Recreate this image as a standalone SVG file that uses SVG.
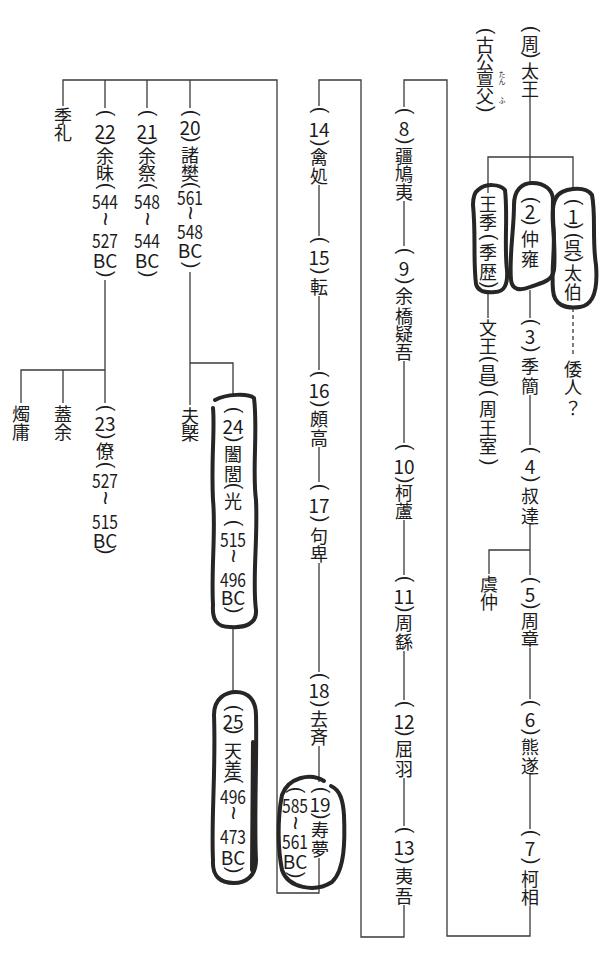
<svg xmlns="http://www.w3.org/2000/svg" width="600" height="964" viewBox="0 0 600 964">
<style>
.c{font-family:"Noto Sans CJK JP","Noto Sans CJK SC",sans-serif;font-size:18px;text-anchor:middle;dominant-baseline:central;fill:#1c1c1c}
.n{font-family:"Noto Sans CJK JP","Noto Sans",sans-serif;font-size:19px;text-anchor:middle;dominant-baseline:central;fill:#1c1c1c}
.p{font-family:"Liberation Sans",sans-serif;font-size:20px;text-anchor:middle;dominant-baseline:central;fill:#1c1c1c}
.w{font-family:"Liberation Sans",sans-serif;font-size:24px;text-anchor:middle;dominant-baseline:central;fill:#1c1c1c}
.r{font-family:"Noto Sans CJK JP",sans-serif;font-size:7px;text-anchor:middle;dominant-baseline:central;fill:#1c1c1c}
.ln{fill:none;stroke:#3a3a3a;stroke-width:1.3}
.dash{fill:none;stroke:#3a3a3a;stroke-width:1.3;stroke-dasharray:4 3}
.blob{fill:none;stroke:#262626;stroke-width:4;stroke-linejoin:round;stroke-linecap:round}
</style>
<rect width="600" height="964" fill="#ffffff"/>
<g id="connectors">
<path class="ln" d="M530,97 V184"/>
<path class="ln" d="M488,193 V157 H573 V190"/>
<path class="ln" d="M488,293 V318"/>
<path class="ln" d="M530,290 V318"/>
<path class="dash" d="M573,308 V355"/>
<path class="ln" d="M530,395 V445"/>
<path class="ln" d="M530,524 V575 M530,550 H489 V574"/>
<path class="ln" d="M530,648 V699"/>
<path class="ln" d="M530,774 V829"/>
<path class="ln" d="M530,906 V936 H447 V80 H404 V107"/>
<path class="ln" d="M404,201 V246 M404,361 V443 M404,520 V575 M404,651 V700 M404,778 V826"/>
<path class="ln" d="M404,905 V937 H361 V80 H319 V106"/>
<path class="ln" d="M319,185 V236 M319,296 V370 M319,447 V482 M319,563 V672 M319,746 V782"/>
<path class="ln" d="M319,858 V893 H277 V80 H63 V106 M105,80 V108 M147,80 V108 M190,80 V108"/>
<path class="ln" d="M190,272 V405 M190,363 H233 V396"/>
<path class="ln" d="M233,627 V693"/>
<path class="ln" d="M105,280 V403 M21,403 V370 H105 M63,370 V403"/>
</g>
<g id="n-taiou">
<text class="p" transform="translate(532 29) rotate(90)">(</text>
<text class="c" x="530" y="43">周</text>
<text class="p" transform="translate(532 55) rotate(90)">)</text>
<text class="c" x="530" y="70">太</text>
<text class="c" x="530" y="88">王</text>
</g>
<g id="n-kokou">
<text class="p" transform="translate(487 31) rotate(90)">(</text>
<text class="c" x="485" y="44">古</text>
<text class="c" x="485" y="61">公</text>
<text class="c" x="485" y="78">亶</text>
<text class="c" x="485" y="95">父</text>
<text class="p" transform="translate(487 109) rotate(90)">)</text>
<text class="r" x="502" y="74">た</text>
<text class="r" x="502" y="81">ん</text>
<text class="r" x="502" y="100">ふ</text>
</g>
<g id="n-ouki">
<path class="blob" d="M478,190 C486,183 500,184 505,190 C508,215 504,245 507,270 C508,285 504,292 495,292 C486,293 478,292 476,284 C473,260 476,235 473,205 C473,196 475,192 478,190 Z"/>
<text class="c" x="488" y="203">王</text>
<text class="c" x="488" y="221">季</text>
<text class="p" transform="translate(490 237) rotate(90)">(</text>
<text class="c" x="488" y="251">季</text>
<text class="c" x="488" y="271">歴</text>
<text class="p" transform="translate(490 285) rotate(90)">)</text>
</g>
<g id="n-chuyou">
<path class="blob" d="M514,205 C514,190 522,183 532,183 C545,183 553,190 553,200 C552,225 556,250 554,270 C552,282 540,283 530,287 C520,291 512,290 511,280 C509,255 514,230 514,205 Z"/>
<text class="p" transform="translate(532 200) rotate(90)">(</text>
<text class="n" x="530" y="210">2</text>
<text class="p" transform="translate(532 222) rotate(90)">)</text>
<text class="c" x="530" y="238">仲</text>
<text class="c" x="530" y="258">雍</text>
</g>
<g id="n-taihaku">
<path class="blob" d="M556,198 C560,188 585,185 592,195 C596,215 592,240 596,265 C598,290 594,305 580,307 C565,309 554,305 553,290 C551,265 556,245 553,225 C552,212 553,203 556,198 Z"/>
<text class="p" transform="translate(575 202) rotate(90)">(</text>
<text class="n" x="573" y="215">1</text>
<text class="p" transform="translate(575 226) rotate(90)">)</text>
<text class="p" transform="translate(575 236) rotate(90)">(</text>
<text class="c" x="573" y="247">呉</text>
<text class="p" transform="translate(575 259) rotate(90)">)</text>
<text class="c" x="573" y="272">太</text>
<text class="c" x="573" y="291">伯</text>
</g>
<g id="n-wajin">
<text class="c" x="573" y="368">倭</text>
<text class="c" x="573" y="386">人</text>
<text class="c" x="573" y="407">？</text>
</g>
<g id="n-bunnou">
<text class="c" x="488" y="327">文</text>
<text class="c" x="488" y="345">王</text>
<text class="p" transform="translate(490 359) rotate(90)">(</text>
<text class="c" x="488" y="372">昌</text>
<text class="p" transform="translate(490 384) rotate(90)">)</text>
<text class="p" transform="translate(490 393) rotate(90)">(</text>
<text class="c" x="488" y="408">周</text>
<text class="c" x="488" y="427">王</text>
<text class="c" x="488" y="445">室</text>
<text class="p" transform="translate(490 462) rotate(90)">)</text>
</g>
<g id="n3">
<text class="p" transform="translate(532 322) rotate(90)">(</text>
<text class="n" x="530" y="335">3</text>
<text class="p" transform="translate(532 349) rotate(90)">)</text>
<text class="c" x="530" y="365">季</text>
<text class="c" x="530" y="385">簡</text>
</g>
<g id="n4">
<text class="p" transform="translate(532 450) rotate(90)">(</text>
<text class="n" x="530" y="465">4</text>
<text class="p" transform="translate(532 479) rotate(90)">)</text>
<text class="c" x="530" y="495">叔</text>
<text class="c" x="530" y="515">達</text>
</g>
<g id="n-guchu">
<text class="c" x="489" y="583">虞</text>
<text class="c" x="489" y="601">仲</text>
</g>
<g id="n5">
<text class="p" transform="translate(532 580) rotate(90)">(</text>
<text class="n" x="530" y="593">5</text>
<text class="p" transform="translate(532 606) rotate(90)">)</text>
<text class="c" x="530" y="620">周</text>
<text class="c" x="530" y="638">章</text>
</g>
<g id="n6">
<text class="p" transform="translate(532 703) rotate(90)">(</text>
<text class="n" x="530" y="718">6</text>
<text class="p" transform="translate(532 732) rotate(90)">)</text>
<text class="c" x="530" y="746">熊</text>
<text class="c" x="530" y="765">遂</text>
</g>
<g id="n7">
<text class="p" transform="translate(532 833) rotate(90)">(</text>
<text class="n" x="530" y="847">7</text>
<text class="p" transform="translate(532 861) rotate(90)">)</text>
<text class="c" x="530" y="878">柯</text>
<text class="c" x="530" y="896">相</text>
</g>
<g id="n8">
<text class="p" transform="translate(406 111) rotate(90)">(</text>
<text class="n" x="404" y="127">8</text>
<text class="p" transform="translate(406 141) rotate(90)">)</text>
<text class="c" x="404" y="155">疆</text>
<text class="c" x="404" y="173">鳩</text>
<text class="c" x="404" y="191">夷</text>
</g>
<g id="n9">
<text class="p" transform="translate(406 251) rotate(90)">(</text>
<text class="n" x="404" y="267">9</text>
<text class="p" transform="translate(406 281) rotate(90)">)</text>
<text class="c" x="404" y="295">余</text>
<text class="c" x="404" y="315">橋</text>
<text class="c" x="404" y="333">疑</text>
<text class="c" x="404" y="351">吾</text>
</g>
<g id="n10">
<text class="p" transform="translate(406 447) rotate(90)">(</text>
<text class="n" x="404" y="465">10</text>
<text class="p" transform="translate(406 480) rotate(90)">)</text>
<text class="c" x="404" y="492">柯</text>
<text class="c" x="404" y="510">蘆</text>
</g>
<g id="n11">
<text class="p" transform="translate(406 579) rotate(90)">(</text>
<text class="n" x="404" y="595">11</text>
<text class="p" transform="translate(406 609) rotate(90)">)</text>
<text class="c" x="404" y="622">周</text>
<text class="c" x="404" y="641">繇</text>
</g>
<g id="n12">
<text class="p" transform="translate(406 704) rotate(90)">(</text>
<text class="n" x="404" y="720">12</text>
<text class="p" transform="translate(406 733) rotate(90)">)</text>
<text class="c" x="404" y="748">屈</text>
<text class="c" x="404" y="768">羽</text>
</g>
<g id="n13">
<text class="p" transform="translate(406 830) rotate(90)">(</text>
<text class="n" x="404" y="846">13</text>
<text class="p" transform="translate(406 861) rotate(90)">)</text>
<text class="c" x="404" y="875">夷</text>
<text class="c" x="404" y="895">吾</text>
</g>
<g id="n14">
<text class="p" transform="translate(321 110) rotate(90)">(</text>
<text class="n" x="319" y="128">14</text>
<text class="p" transform="translate(321 143) rotate(90)">)</text>
<text class="c" x="319" y="156">禽</text>
<text class="c" x="319" y="175">処</text>
</g>
<g id="n15">
<text class="p" transform="translate(321 240) rotate(90)">(</text>
<text class="n" x="319" y="256">15</text>
<text class="p" transform="translate(321 271) rotate(90)">)</text>
<text class="c" x="319" y="286">転</text>
</g>
<g id="n16">
<text class="p" transform="translate(321 374) rotate(90)">(</text>
<text class="n" x="319" y="389">16</text>
<text class="p" transform="translate(321 404) rotate(90)">)</text>
<text class="c" x="319" y="418">頗</text>
<text class="c" x="319" y="437">高</text>
</g>
<g id="n17">
<text class="p" transform="translate(321 487) rotate(90)">(</text>
<text class="n" x="319" y="504">17</text>
<text class="p" transform="translate(321 519) rotate(90)">)</text>
<text class="c" x="319" y="535">句</text>
<text class="c" x="319" y="553">卑</text>
</g>
<g id="n18">
<text class="p" transform="translate(321 676) rotate(90)">(</text>
<text class="n" x="319" y="689">18</text>
<text class="p" transform="translate(321 704) rotate(90)">)</text>
<text class="c" x="319" y="718">去</text>
<text class="c" x="319" y="736">斉</text>
</g>
<g id="n19">
<path class="blob" d="M324,781 C310,772 288,778 282,795 C277,820 278,850 282,870 C288,888 315,893 332,882 C345,870 345,840 344,815 C343,800 340,790 331,786"/>
<text class="p" transform="translate(322 790) rotate(90)">(</text>
<text class="n" x="320" y="803">19</text>
<text class="p" transform="translate(322 816) rotate(90)">)</text>
<text class="c" x="320" y="829">寿</text>
<text class="c" x="320" y="848">夢</text>
<text class="p" transform="translate(297 790) rotate(90)">(</text>
<text class="n" x="295" y="804" textLength="26" lengthAdjust="spacingAndGlyphs">585</text>
<text class="w" transform="translate(295 823) rotate(90)">~</text>
<text class="n" x="295" y="840" textLength="26" lengthAdjust="spacingAndGlyphs">561</text>
<text class="n" x="295" y="860">BC</text>
<text class="p" transform="translate(297 875) rotate(90)">)</text>
</g>
<g id="n20">
<text class="p" transform="translate(192 113) rotate(90)">(</text>
<text class="n" x="190" y="126">20</text>
<text class="p" transform="translate(192 139) rotate(90)">)</text>
<text class="c" x="190" y="154">諸</text>
<text class="c" x="190" y="172">樊</text>
<text class="p" transform="translate(192 185) rotate(90)">(</text>
<text class="n" x="190" y="196" textLength="26" lengthAdjust="spacingAndGlyphs">561</text>
<text class="w" transform="translate(190 213) rotate(90)">~</text>
<text class="n" x="190" y="230" textLength="26" lengthAdjust="spacingAndGlyphs">548</text>
<text class="n" x="190" y="249">BC</text>
<text class="p" transform="translate(192 265) rotate(90)">)</text>
</g>
<g id="n21">
<text class="p" transform="translate(149 113) rotate(90)">(</text>
<text class="n" x="147" y="130">21</text>
<text class="p" transform="translate(149 142) rotate(90)">)</text>
<text class="c" x="147" y="155">余</text>
<text class="c" x="147" y="172">祭</text>
<text class="p" transform="translate(149 186) rotate(90)">(</text>
<text class="n" x="147" y="200" textLength="26" lengthAdjust="spacingAndGlyphs">548</text>
<text class="w" transform="translate(147 219) rotate(90)">~</text>
<text class="n" x="147" y="239" textLength="26" lengthAdjust="spacingAndGlyphs">544</text>
<text class="n" x="147" y="259">BC</text>
<text class="p" transform="translate(149 274) rotate(90)">)</text>
</g>
<g id="n22">
<text class="p" transform="translate(107 113) rotate(90)">(</text>
<text class="n" x="105" y="130">22</text>
<text class="p" transform="translate(107 142) rotate(90)">)</text>
<text class="c" x="105" y="155">余</text>
<text class="c" x="105" y="172">昧</text>
<text class="p" transform="translate(107 186) rotate(90)">(</text>
<text class="n" x="105" y="200" textLength="26" lengthAdjust="spacingAndGlyphs">544</text>
<text class="w" transform="translate(105 219) rotate(90)">~</text>
<text class="n" x="105" y="239" textLength="26" lengthAdjust="spacingAndGlyphs">527</text>
<text class="n" x="105" y="259">BC</text>
<text class="p" transform="translate(107 274) rotate(90)">)</text>
</g>
<g id="n-kirei">
<text class="c" x="63" y="115">季</text>
<text class="c" x="63" y="132">礼</text>
</g>
<g id="n-shokuyou">
<text class="c" x="21" y="413">燭</text>
<text class="c" x="21" y="431">庸</text>
</g>
<g id="n-gaiyo">
<text class="c" x="63" y="413">蓋</text>
<text class="c" x="63" y="431">余</text>
</g>
<g id="n23">
<text class="p" transform="translate(107 408) rotate(90)">(</text>
<text class="n" x="105" y="422">23</text>
<text class="p" transform="translate(107 436) rotate(90)">)</text>
<text class="c" x="105" y="450">僚</text>
<text class="p" transform="translate(107 465) rotate(90)">(</text>
<text class="n" x="105" y="479" textLength="26" lengthAdjust="spacingAndGlyphs">527</text>
<text class="w" transform="translate(105 498) rotate(90)">~</text>
<text class="n" x="105" y="520" textLength="26" lengthAdjust="spacingAndGlyphs">515</text>
<text class="n" x="105" y="539">BC</text>
<text class="p" transform="translate(107 551) rotate(90)">)</text>
</g>
<g id="n-fugai">
<text class="c" x="190" y="415">夫</text>
<text class="c" x="190" y="432">槩</text>
</g>
<g id="n24">
<path class="blob" d="M215,400 C226,394 248,393 254,398 C258,430 252,470 256,500 C258,540 252,580 256,610 C257,624 245,628 230,627 C217,627 212,620 213,605 C211,570 216,530 213,500 C211,460 215,430 213,408"/>
<text class="p" transform="translate(235 410) rotate(90)">(</text>
<text class="n" x="233" y="425">24</text>
<text class="p" transform="translate(235 439) rotate(90)">)</text>
<text class="c" x="233" y="453">闔</text>
<text class="c" x="233" y="473">閭</text>
<text class="p" transform="translate(235 486) rotate(90)">(</text>
<text class="c" x="233" y="500">光</text>
<text class="p" transform="translate(235 523) rotate(90)">(</text>
<text class="n" x="233" y="538" textLength="26" lengthAdjust="spacingAndGlyphs">515</text>
<text class="w" transform="translate(233 556) rotate(90)">~</text>
<text class="n" x="233" y="578" textLength="26" lengthAdjust="spacingAndGlyphs">496</text>
<text class="n" x="233" y="596">BC</text>
<text class="p" transform="translate(235 610) rotate(90)">)</text>
</g>
<g id="n25">
<path class="blob" d="M214,715 C214,698 226,692 236,692 C248,692 256,700 256,715 C257,760 254,820 256,860 C256,876 246,883 234,883 C220,883 212,876 213,860 C211,820 216,770 214,715 Z"/>
<path class="blob" d="M253,742 L252,870"/>
<text class="p" transform="translate(235 708) rotate(90)">(</text>
<text class="n" x="233" y="720">25</text>
<text class="p" transform="translate(235 731) rotate(90)">)</text>
<text class="c" x="233" y="750">天</text>
<text class="c" x="233" y="768">差</text>
<text class="p" transform="translate(235 780) rotate(90)">(</text>
<text class="n" x="233" y="795" textLength="26" lengthAdjust="spacingAndGlyphs">496</text>
<text class="w" transform="translate(233 813) rotate(90)">~</text>
<text class="n" x="233" y="835" textLength="26" lengthAdjust="spacingAndGlyphs">473</text>
<text class="n" x="233" y="856">BC</text>
<text class="p" transform="translate(235 870) rotate(90)">)</text>
</g>
</svg>
